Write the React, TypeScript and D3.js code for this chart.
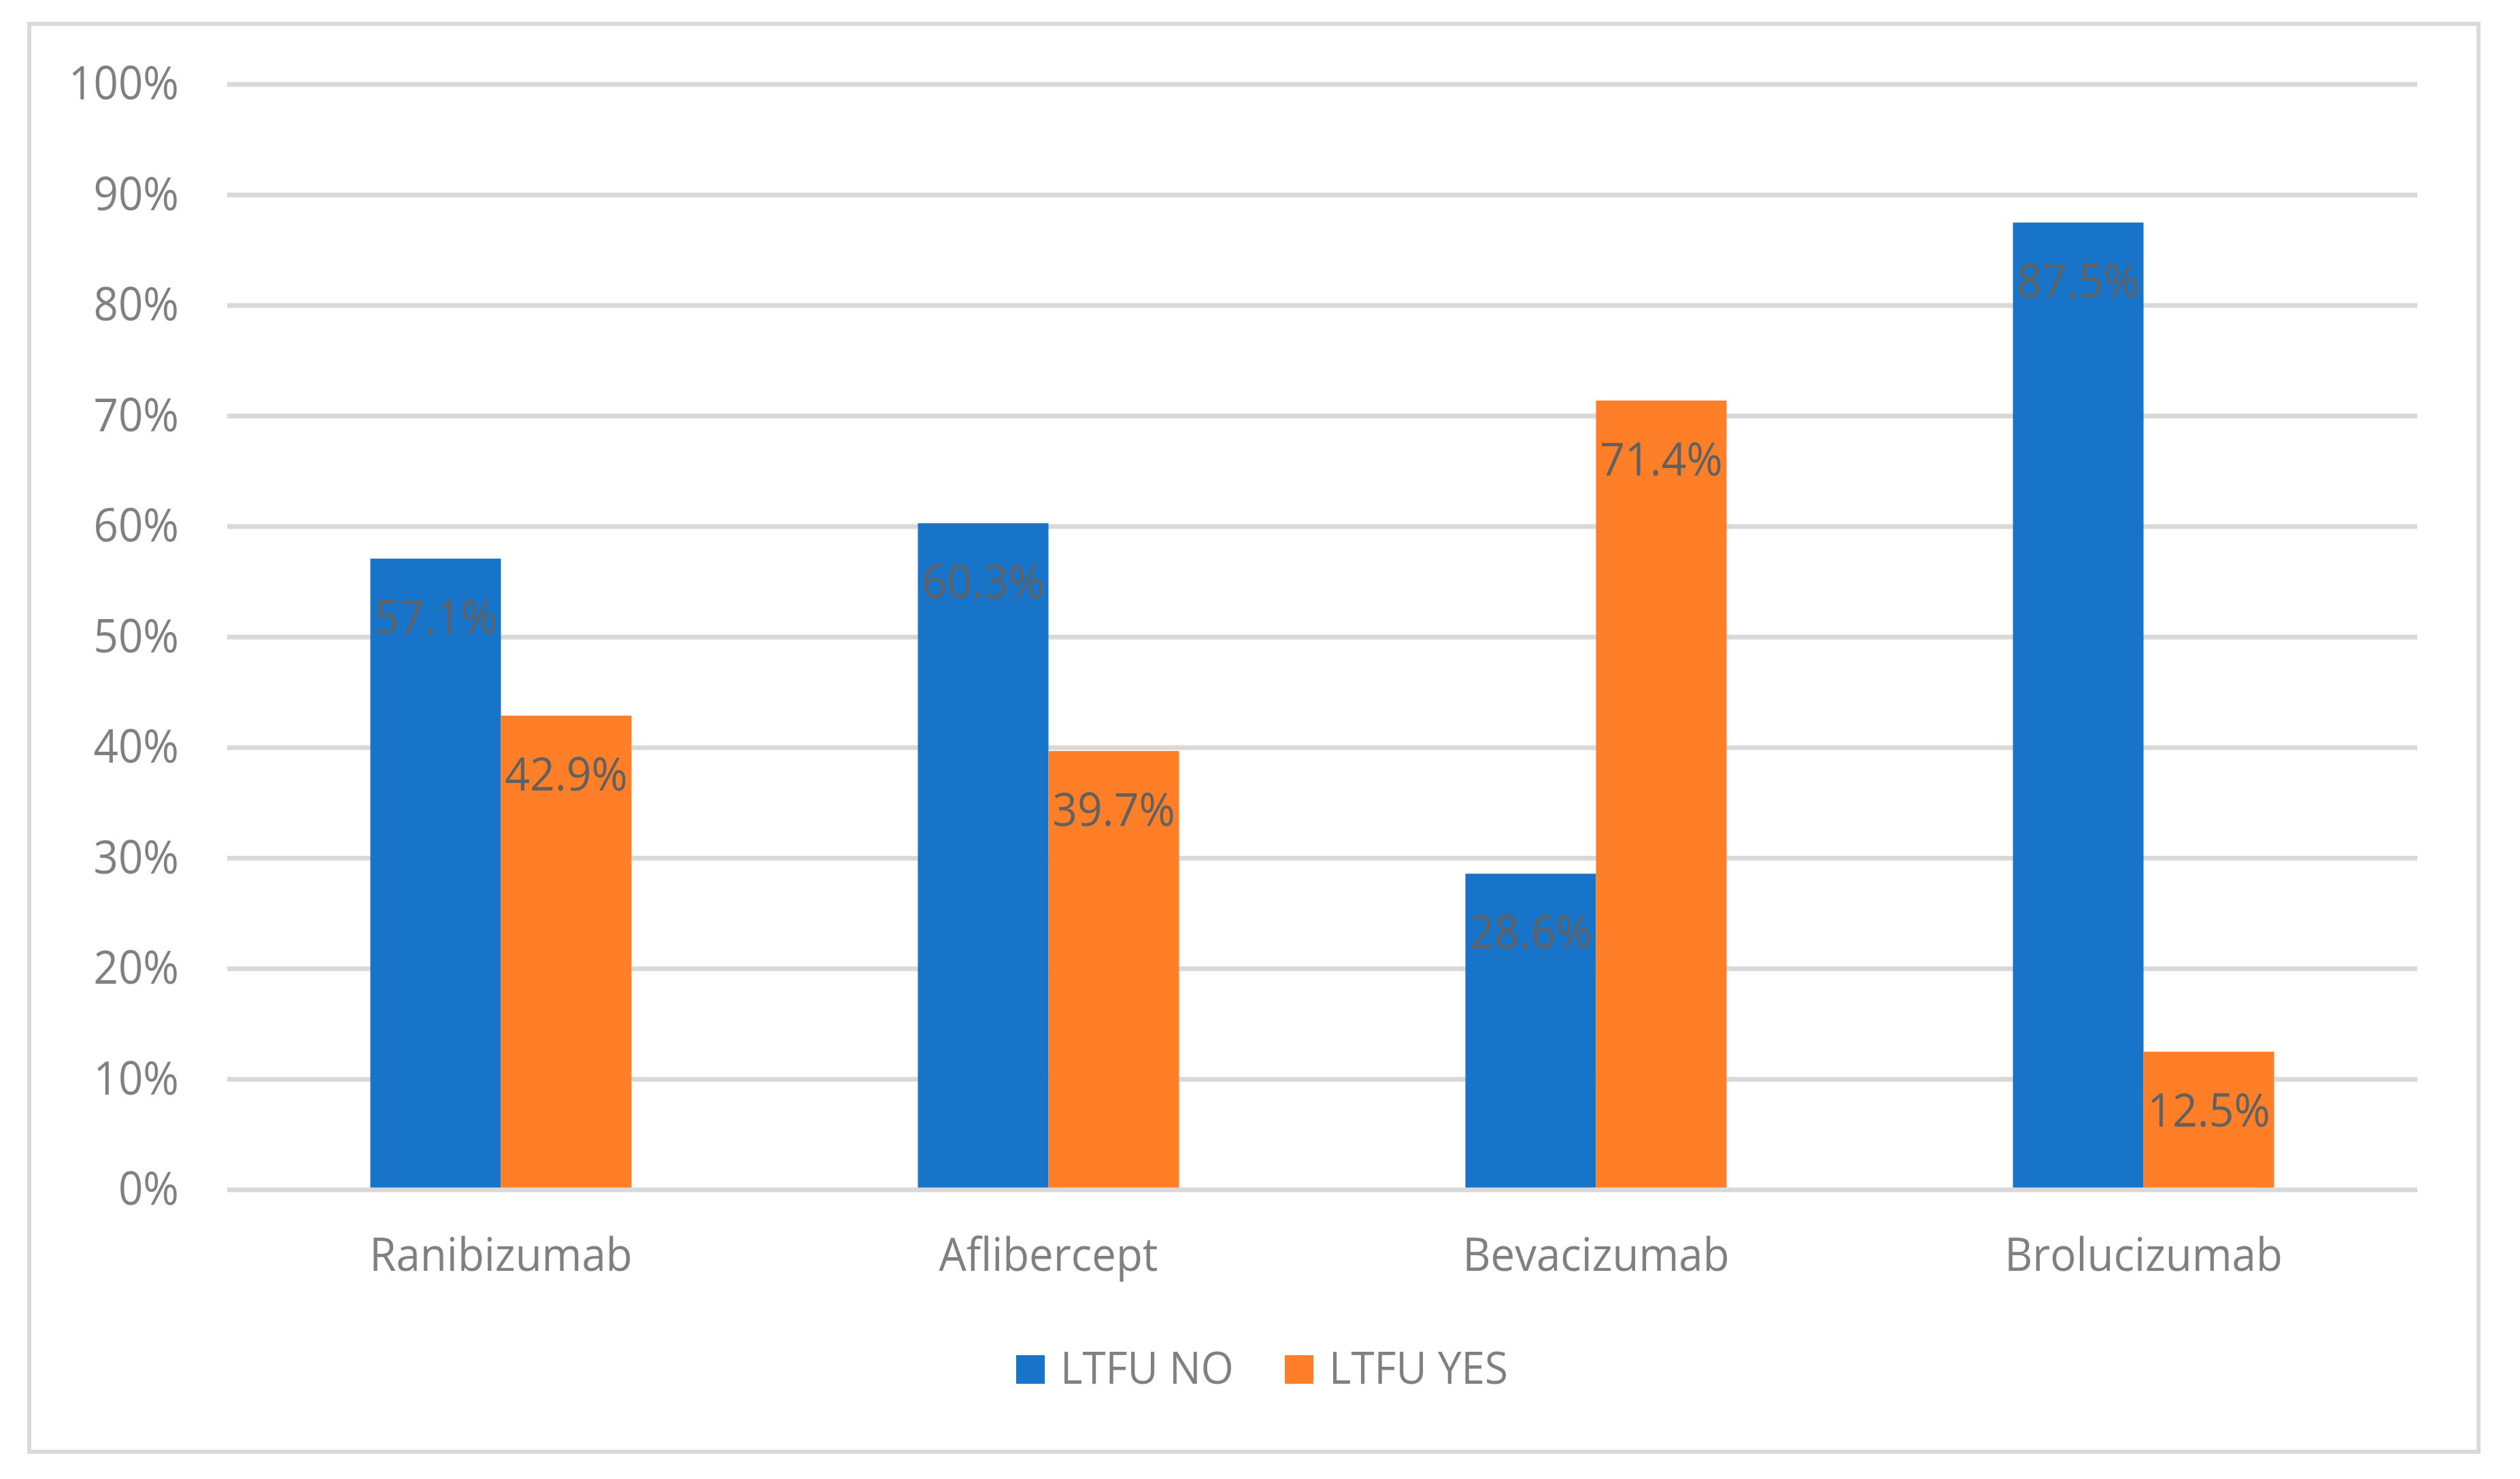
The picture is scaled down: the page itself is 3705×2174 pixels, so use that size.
import React from "react";
import * as d3 from "d3";

const categories = ["Ranibizumab", "Aflibercept", "Bevacizumab", "Brolucizumab"];
const seriesNames = ["LTFU NO", "LTFU YES"];
const ltfuNo = [57.1, 60.3, 28.6, 87.5];
const ltfuYes = [42.9, 39.7, 71.4, 12.5];
const yTicks = [0, 10, 20, 30, 40, 50, 60, 70, 80, 90, 100];
const colors = ["#1874C8", "#FE7F27"];

const W = 3705;
const H = 2174;
const FONT = "'Open Sans', 'Noto Sans', sans-serif";

export default function App() {
  const x0 = d3.scaleBand<string>().domain(categories).range([334, 3554]).paddingInner(0).paddingOuter(0);
  const barW = 192;
  const x1 = d3.scaleBand<string>().domain(seriesNames).range([0, 2 * barW]);
  const y = d3.scaleLinear().domain([0, 100]).range([1749, 124]);
  const series = [ltfuNo, ltfuYes];

  const bars: any[] = [];
  const labels: any[] = [];
  categories.forEach((c, i) => {
    seriesNames.forEach((s, j) => {
      const v = series[j][i];
      const bx = (x0(c) as number) + x0.bandwidth() / 2 - barW + (x1(s) as number);
      const top = y(v);
      bars.push(
        <rect key={`b-${c}-${s}`} x={bx} y={top} width={x1.bandwidth()} height={y(0) - top} fill={colors[j]} />
      );
      labels.push(
        <text
          key={`l-${c}-${s}`}
          transform={`translate(${bx + x1.bandwidth() / 2},${top + 110}) scale(0.94,1)`}
          textAnchor="middle"
          fontFamily={FONT}
          fontSize={68.5}
          fill="#616161"
        >
          {v.toFixed(1)}%
        </text>
      );
    });
  });

  const legendPos = [
    { sq: 1494, tx: 1559 },
    { sq: 1889, tx: 1954 },
  ];

  return (
    <svg
      width={W}
      height={H}
      viewBox={`0 0 ${W} ${H}`}
      style={{ position: "absolute", left: 0, top: 0, background: "#fff" }}
    >
      <rect x={0} y={0} width={W} height={H} fill="#fff" />
      <rect x={43} y={35} width={3601} height={2099} fill="#fff" stroke="#D9D9D9" strokeWidth={6} />
      {yTicks.filter((t) => t > 0).map((t) => (
        <line key={`g-${t}`} x1={334} x2={3554} y1={y(t)} y2={y(t)} stroke="#D9D9D9" strokeWidth={7} />
      ))}
      {bars}
      <line x1={334} x2={3554} y1={y(0)} y2={y(0)} stroke="#D9D9D9" strokeWidth={7} />
      {yTicks.map((t) => (
        <text
          key={`yt-${t}`}
          transform={`translate(263,${y(t) + 22}) scale(0.93,1)`}
          textAnchor="end"
          fontFamily={FONT}
          fontSize={68.5}
          fill="#808080"
        >
          {t}%
        </text>
      ))}
      {categories.map((c) => (
        <text
          key={`xc-${c}`}
          transform={`translate(${(x0(c) as number) + x0.bandwidth() / 2},1868) scale(0.935,1)`}
          textAnchor="middle"
          fontFamily={FONT}
          fontSize={68}
          fill="#808080"
        >
          {c}
        </text>
      ))}
      {labels}
      {seriesNames.map((s, j) => (
        <g key={`lg-${s}`}>
          <rect x={legendPos[j].sq} y={1992} width={42} height={42} fill={colors[j]} />
          <text
            transform={`translate(${legendPos[j].tx},2034) scale(0.94,1)`}
            fontFamily={FONT}
            fontSize={66}
            fill="#808080"
          >
            {s}
          </text>
        </g>
      ))}
    </svg>
  );
}
